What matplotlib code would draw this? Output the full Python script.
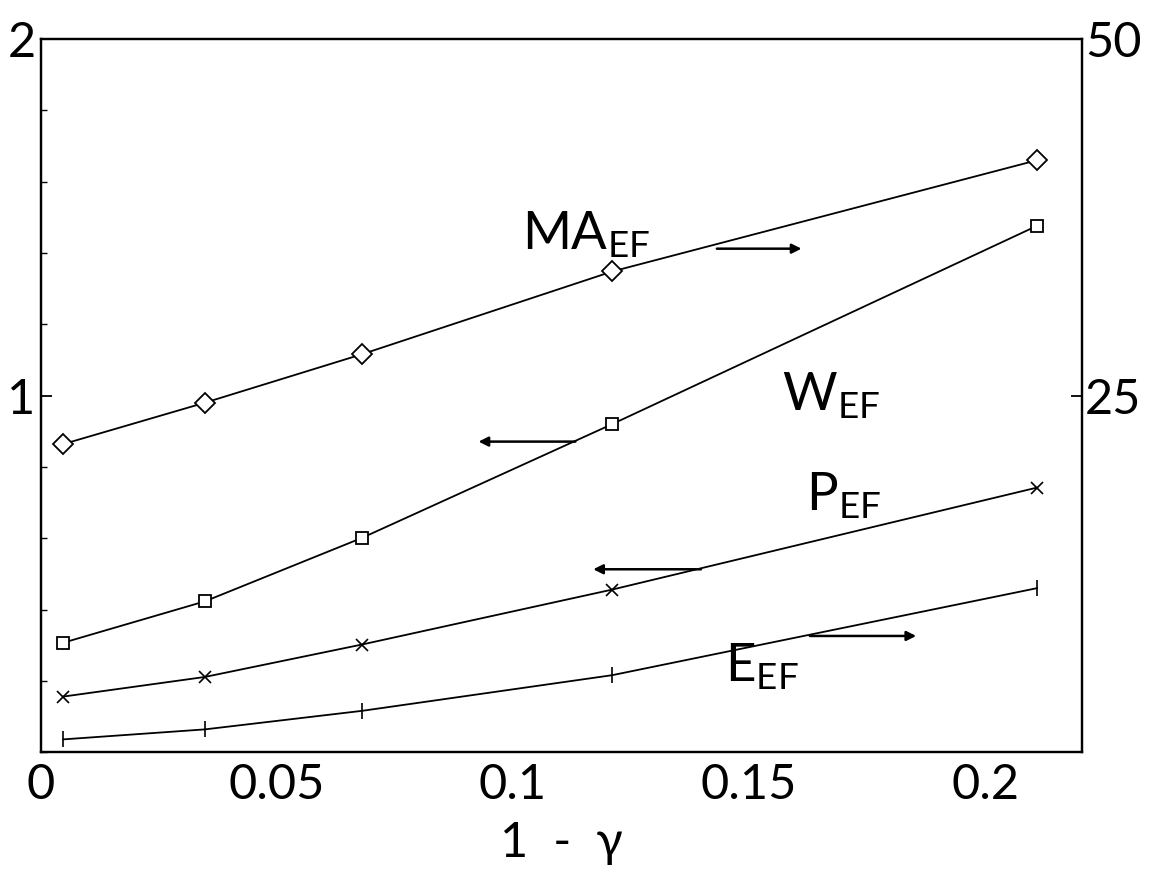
import matplotlib
matplotlib.use("Agg")
import matplotlib.pyplot as plt
from matplotlib.ticker import MultipleLocator

# data
one_minus_gamma = [0.0047, 0.0347, 0.068, 0.121, 0.211]
MA_EF = [21.6, 24.5, 27.9, 33.7, 41.5]      # right axis
W_EF = [0.307, 0.423, 0.601, 0.920, 1.476]  # left axis
P_EF = [0.156, 0.211, 0.302, 0.456, 0.742]  # left axis
E_EF = [0.9, 1.6, 2.9, 5.4, 11.5]           # right axis
x_ticks = [0, 0.05, 0.1, 0.15, 0.2]
x_ticklabels = ["0", "0.05", "0.1", "0.15", "0.2"]

plt.rcParams['font.family'] = ['Lato', 'DejaVu Sans']
plt.rcParams['mathtext.fontset'] = 'custom'
plt.rcParams['mathtext.rm'] = 'Lato'

fig = plt.figure(figsize=(11.66, 8.86), dpi=100)
ax = fig.add_axes([0.0352, 0.151, 0.893, 0.805])
ax2 = ax.twinx()

lw = 1.3
ax.plot(one_minus_gamma, W_EF, color='black', lw=lw, marker='s', ms=8,
        mfc='white', mec='black', mew=1.3)
ax.plot(one_minus_gamma, P_EF, color='black', lw=lw, marker='x', ms=8,
        mec='black', mew=1.2)
ax2.plot(one_minus_gamma, MA_EF, color='black', lw=lw, marker='D', ms=10,
         mfc='white', mec='black', mew=1.3)
ax2.plot(one_minus_gamma, E_EF, color='black', lw=lw, marker='|', ms=12,
         mec='black', mew=1.2)

ax.set_xlim(0, 0.2206)
ax.set_ylim(0, 2)
ax2.set_ylim(0, 50)

ax.set_xticks(x_ticks)
ax.set_xticklabels(x_ticklabels)
ax.set_yticks([1, 2])
ax.set_yticklabels(["1", "2"])
ax.yaxis.set_minor_locator(MultipleLocator(0.2))
ax2.set_yticks([25, 50])
ax2.set_yticklabels(["25", "50"])

for a in (ax, ax2):
    for s in a.spines.values():
        s.set_linewidth(1.6)
    a.tick_params(direction='in', length=8, width=1.3, labelsize=35, pad=6)
    a.tick_params(which='minor', direction='in', length=4, width=1.0)
ax.tick_params(axis='x', length=0, pad=8)
ax.tick_params(axis='y', pad=4)
ax2.tick_params(axis='y', pad=2)

ax.set_xlabel("1  -  γ", fontsize=35, labelpad=10)

tkw = dict(fontsize=38, va='center', ha='left')
ax.text(0.102, 1.45, r"MA$_{\mathrm{EF}}$", **tkw)
ax.text(0.157, 1.0, r"W$_{\mathrm{EF}}$", **tkw)
ax.text(0.162, 0.72, r"P$_{\mathrm{EF}}$", **tkw)
ax.text(0.145, 0.24, r"E$_{\mathrm{EF}}$", **tkw)

akw = dict(arrowstyle='-|>', color='black', lw=1.8, mutation_scale=14)
ax.annotate("", xy=(0.1617, 1.412), xytext=(0.1426, 1.412), arrowprops=akw)
ax.annotate("", xy=(0.0921, 0.871), xytext=(0.1138, 0.871), arrowprops=akw)
ax.annotate("", xy=(0.1164, 0.513), xytext=(0.1404, 0.513), arrowprops=akw)
ax.annotate("", xy=(0.186, 0.326), xytext=(0.1623, 0.326), arrowprops=akw)

fig.savefig("out.png", dpi=100)
